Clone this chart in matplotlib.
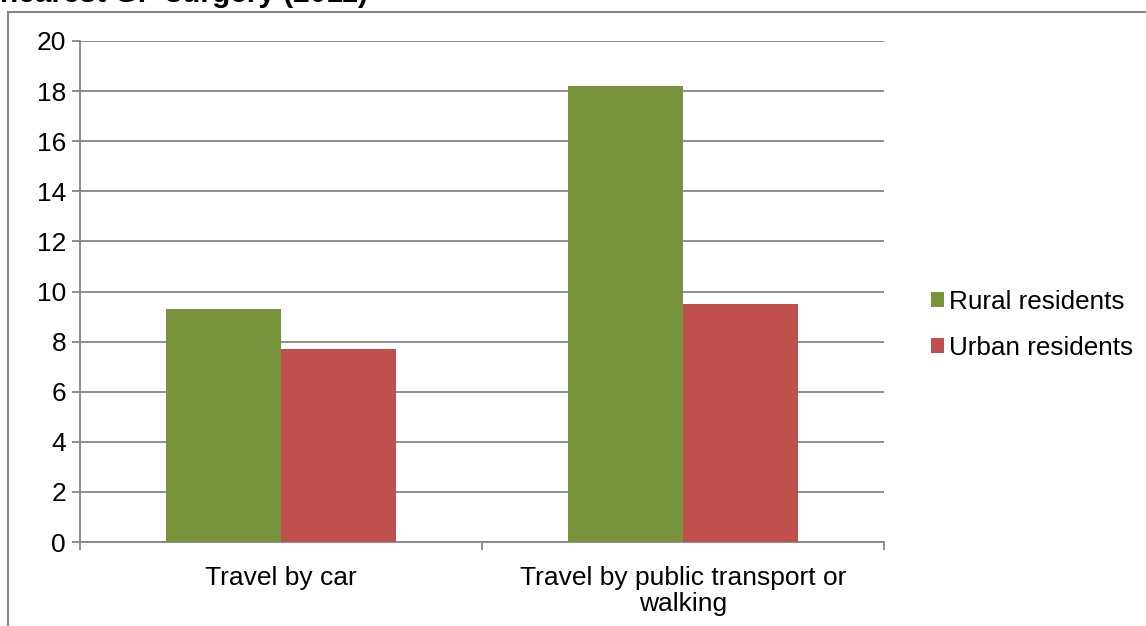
import matplotlib
matplotlib.use("Agg")
import matplotlib.pyplot as plt
from matplotlib.lines import Line2D
from matplotlib.patches import Patch
import numpy as np

plt.rcParams['font.family'] = ['Liberation Sans', 'DejaVu Sans']

categories = ["Travel by car", "Travel by public transport or\nwalking"]
series_names = ["Rural residents", "Urban residents"]
rural = [9.3, 18.2]
urban = [7.7, 9.5]
colors = ["#77933C", "#C0504D"]
yticks = list(range(0, 21, 2))
title_text = "nearest GP surgery (2011)"

W, H = 1146, 626
fig = plt.figure(figsize=(W / 100, H / 100), dpi=100)
ax = fig.add_axes([80 / W, 1 - 542 / H, (884 - 80) / W, (542 - 41) / H])

grey = "#868686"
x = np.arange(len(categories))
bw = 0.286
ax.bar(x - bw / 2, rural, bw, color=colors[0], zorder=3, label=series_names[0])
ax.bar(x + bw / 2, urban, bw, color=colors[1], zorder=3, label=series_names[1])

ax.set_xlim(-0.5, len(categories) - 0.5)
ax.set_ylim(0, 20)
ax.set_yticks(yticks)
ax.set_yticklabels([str(v) for v in yticks])
ax.yaxis.grid(True, color=grey, linewidth=1.3, zorder=0)
ax.set_axisbelow(True)

ax.set_xticks(x)
ax.set_xticklabels(categories, fontsize=19, linespacing=1.15)
ax.set_xticks(np.arange(-0.5, len(categories)), minor=True)
ax.tick_params(axis='x', which='major', length=0, pad=17)
ax.tick_params(axis='x', which='minor', length=6, width=1.3, color=grey)
ax.tick_params(axis='y', length=6, width=1.3, color=grey, labelsize=19, pad=4)

for s in ['top', 'right']:
    ax.spines[s].set_visible(False)
for s in ['left', 'bottom']:
    ax.spines[s].set_color(grey)
    ax.spines[s].set_linewidth(1.3)

handles = [Patch(facecolor=colors[0]), Patch(facecolor=colors[1])]
fig.legend(handles, series_names, loc='center left',
           bbox_to_anchor=(918 / W, 1 - 325 / H), frameon=False, fontsize=18.8,
           handlelength=0.5, handleheight=0.5, handletextpad=0.2,
           labelspacing=0.85, borderpad=0)

# outer chart frame
fig.add_artist(Line2D([8 / W, 8 / W], [0, 1 - 12 / H], transform=fig.transFigure,
                      color=grey, linewidth=1.5))
fig.add_artist(Line2D([8 / W, 1], [1 - 12 / H, 1 - 12 / H], transform=fig.transFigure,
                      color=grey, linewidth=1.5))

fig.text(0 / W, 1 - 2 / H, title_text, fontsize=21.5, fontweight='bold',
         ha='left', va='baseline')

fig.savefig("out.png", dpi=100)
